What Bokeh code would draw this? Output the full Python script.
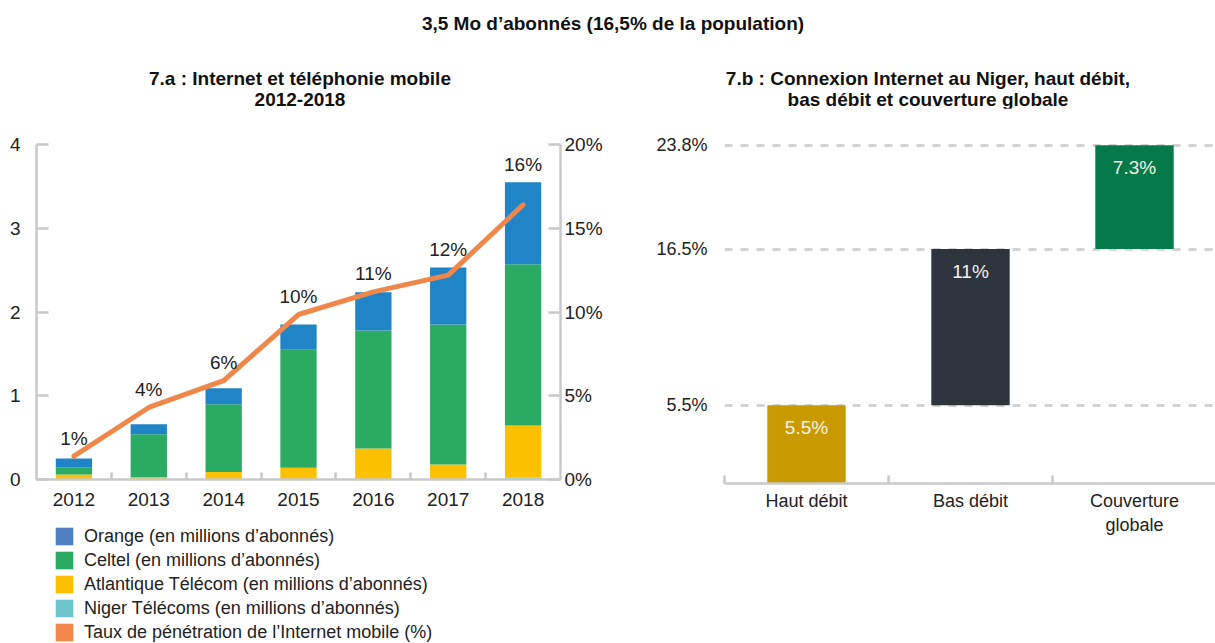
import numpy as np
from bokeh.plotting import figure
from bokeh.models import (Range1d, LinearAxis, FixedTicker, ColumnDataSource,
                          Legend, LegendItem, Div)
from bokeh.layouts import column, row
from bokeh.embed import file_html
from bokeh.resources import INLINE
from bokeh.core.properties import value

FONT = "Liberation Sans"

# ---------------- data ----------------
years = ["2012", "2013", "2014", "2015", "2016", "2017", "2018"]
niger_telecoms = [0.0, 0.0, 0.0, 0.0, 0.0, 0.0, 0.02]
atlantique = [0.06, 0.03, 0.09, 0.14, 0.37, 0.18, 0.625]
celtel = [0.085, 0.51, 0.81, 1.41, 1.41, 1.67, 1.925]
orange = [0.105, 0.12, 0.19, 0.30, 0.455, 0.68, 0.98]
penetration = [1.4, 4.3, 5.9, 9.85, 11.2, 12.2, 16.4]
pen_labels = ["1%", "4%", "6%", "10%", "11%", "12%", "16%"]
left_ticks = [0, 1, 2, 3, 4]
right_ticks = [0, 5, 10, 15, 20]
right_tick_labels = ["0%", "5%", "10%", "15%", "20%"]

series_names = ["Orange (en millions d’abonnés)", "Celtel (en millions d’abonnés)",
                "Atlantique Télécom (en millions d’abonnés)", "Niger Télécoms (en millions d’abonnés)",
                "Taux de pénétration de l’Internet mobile (%)"]

modes = ["Haut débit", "Bas débit", "Couverture\nglobale"]
mode_values = [5.5, 11.0, 7.3]
mode_labels = ["5.5%", "11%", "7.3%"]
mode_ticks = [5.5, 16.5, 23.8]
mode_tick_labels = ["5.5%", "16.5%", "23.8%"]

# colours
C_ORANGE_BAR = "#1F85C7"
C_CELTEL = "#2BAA64"
C_ATL = "#FBC000"
C_NIGER = "#6DC6CC"
C_LINE = "#F0874A"
C_ORANGE_LEG = "#4F7FC2"
MODE_COLORS = ["#C99A00", "#2E343D", "#06794A"]
AXIS_C = "#C8C8C8"
TXT = "#222222"

# ---------------- titles ----------------
TSTYLE = f"font-family:'{FONT}',sans-serif;font-weight:bold;font-size:19px;color:#111;text-align:center"
title_div = Div(text=f"<div style=\"{TSTYLE};width:1204px;margin-left:11px;padding-top:14px;line-height:20px\">3,5 Mo d’abonnés (16,5% de la population)</div>",
                width=1215, height=48, margin=0)
sub_a = Div(text=f"<div style=\"{TSTYLE};width:600px;padding-top:20px;line-height:21px\">7.a : Internet et téléphonie mobile<br>2012-2018</div>",
            width=628, height=60, margin=0)
sub_b = Div(text=f"<div style=\"{TSTYLE};width:574px;margin-left:13px;padding-top:20px;line-height:21px\">7.b : Connexion Internet au Niger, haut débit,<br>bas débit et couverture globale</div>",
            width=587, height=60, margin=0)

# ---------------- left chart ----------------
xs = list(range(len(years)))
b0 = np.zeros(len(years))
n_top = b0 + np.array(niger_telecoms)
a_top = n_top + np.array(atlantique)
c_top = a_top + np.array(celtel)
o_top = c_top + np.array(orange)

p1 = figure(width=628, height=407, x_range=Range1d(-0.5, 6.5), y_range=Range1d(0, 4),
            output_backend="svg", toolbar_location=None,
            min_border_left=36, min_border_right=68, min_border_top=36, min_border_bottom=36)
p1.outline_line_color = None
p1.grid.visible = False
p1.extra_y_ranges = {"pct": Range1d(0, 20)}

src = ColumnDataSource(dict(x=xs, b0=b0, n=n_top, a=a_top, c=c_top, o=o_top))
W = 0.485
p1.vbar(x="x", bottom="b0", top="n", width=W, source=src, fill_color=C_NIGER, line_color=None)
p1.vbar(x="x", bottom="n", top="a", width=W, source=src, fill_color=C_ATL, line_color=None)
p1.vbar(x="x", bottom="a", top="c", width=W, source=src, fill_color=C_CELTEL, line_color=None)
p1.vbar(x="x", bottom="c", top="o", width=W, source=src, fill_color=C_ORANGE_BAR, line_color=None)

p1.line(xs, penetration, y_range_name="pct", line_color=C_LINE, line_width=5,
        line_cap="round", line_join="round")

label_y = np.maximum(o_top, np.array(penetration) * 4 / 20)
p1.text(x=xs, y=label_y, text=pen_labels, y_offset=-18, text_align="center",
        text_baseline="middle", text_font=value(FONT), text_font_size="19px", text_color=TXT)

xaxis = p1.xaxis[0]
xaxis.ticker = FixedTicker(ticks=xs, minor_ticks=[i + 0.5 for i in xs[:-1]])
xaxis.major_label_overrides = {i: y for i, y in zip(xs, years)}
xaxis.major_tick_in = 0
xaxis.major_tick_out = 0
xaxis.minor_tick_in = 7
xaxis.minor_tick_out = 0
xaxis.minor_tick_line_color = AXIS_C
xaxis.minor_tick_line_width = 2.5
xaxis.axis_line_color = AXIS_C
xaxis.axis_line_width = 2.5
xaxis.major_label_standoff = 13

yaxis = p1.yaxis[0]
yaxis.ticker = FixedTicker(ticks=left_ticks)
yaxis.major_tick_in = 12
yaxis.major_tick_out = 0
yaxis.major_tick_line_color = AXIS_C
yaxis.major_tick_line_width = 2.5
yaxis.axis_line_color = AXIS_C
yaxis.axis_line_width = 2.5
yaxis.major_label_standoff = 16

raxis = LinearAxis(y_range_name="pct", ticker=FixedTicker(ticks=right_ticks),
                   major_label_overrides={t: l for t, l in zip(right_ticks, right_tick_labels)})
raxis.major_tick_in = 12
raxis.major_tick_out = 0
raxis.major_tick_line_color = AXIS_C
raxis.major_tick_line_width = 2.5
raxis.axis_line_color = AXIS_C
raxis.axis_line_width = 2.5
raxis.major_label_standoff = 4
p1.add_layout(raxis, "right")

for ax in (xaxis, yaxis, raxis):
    ax.major_label_text_font = FONT
    ax.major_label_text_font_size = "19px"
    ax.major_label_text_color = TXT

# ---------------- legend (own panel below the left chart) ----------------
p3 = figure(width=628, height=128, x_range=Range1d(0, 1), y_range=Range1d(0, 1),
            output_backend="svg", toolbar_location=None,
            x_axis_location=None, y_axis_location=None,
            min_border_left=0, min_border_right=0, min_border_top=0, min_border_bottom=0)
p3.outline_line_color = None
p3.grid.visible = False
leg_colors = [C_ORANGE_LEG, C_CELTEL, C_ATL, C_NIGER, C_LINE]
items = []
for name, col in zip(series_names, leg_colors):
    # zero-height proxy bar: invisible in the plot, gives the legend its swatch colour
    r = p3.vbar(x=[0.5], bottom=[0], top=[0], width=0.001, fill_color=col, line_color=None)
    items.append(LegendItem(label=name, renderers=[r]))
legend = Legend(items=items, location=(17, 0), orientation="vertical",
                glyph_width=22, glyph_height=22, label_height=18, spacing=2,
                padding=0, margin=0, border_line_color=None, background_fill_alpha=0,
                label_text_font=FONT, label_text_font_size="18px", label_text_color=TXT,
                label_standoff=9)
p3.add_layout(legend)

# ---------------- right chart ----------------
mx = [i + 0.5 for i in range(len(modes))]
tops = np.cumsum(mode_values)
bottoms = tops - np.array(mode_values)

p2 = figure(width=587, height=535, x_range=Range1d(0, 2.994), y_range=Range1d(0, 24.0),
            output_backend="svg", toolbar_location=None,
            min_border_left=96, min_border_right=0, min_border_top=34, min_border_bottom=160)
p2.outline_line_color = None
p2.xgrid.visible = False
p2.ygrid.ticker = FixedTicker(ticks=mode_ticks)
p2.ygrid.grid_line_color = "#D2D2D2"
p2.ygrid.grid_line_width = 3
p2.ygrid.grid_line_dash = "8 8"

src2 = ColumnDataSource(dict(x=mx, bottom=bottoms, top=tops, color=MODE_COLORS, lab=mode_labels))
p2.vbar(x="x", bottom="bottom", top="top", width=0.478, fill_color="color", line_color=None, source=src2)
p2.text(x="x", y="top", text="lab", y_offset=22, text_align="center", text_baseline="middle",
        text_font=value(FONT), text_font_size="19px", text_color="#F5F1E4", source=src2)

ax2 = p2.xaxis[0]
ax2.ticker = FixedTicker(ticks=mx, minor_ticks=list(range(len(modes))))
ax2.major_label_overrides = {x: m for x, m in zip(mx, modes)}
ax2.major_tick_in = 0
ax2.major_tick_out = 0
ax2.minor_tick_in = 8
ax2.minor_tick_out = 0
ax2.minor_tick_line_color = AXIS_C
ax2.minor_tick_line_width = 2.5
ax2.axis_line_color = AXIS_C
ax2.axis_line_width = 2.5
ax2.major_label_standoff = 7

ay2 = p2.yaxis[0]
ay2.ticker = FixedTicker(ticks=mode_ticks)
ay2.major_label_overrides = {t: l for t, l in zip(mode_ticks, mode_tick_labels)}
ay2.axis_line_color = None
ay2.major_tick_line_color = None
ay2.minor_tick_line_color = None
ay2.major_label_standoff = 11

for ax in (ax2, ay2):
    ax.major_label_text_font = FONT
    ax.major_label_text_font_size = "18px"
    ax.major_label_text_color = TXT

layout = column(title_div, row(column(sub_a, p1, p3), column(sub_b, p2)))

open("out.html", "w").write(file_html(layout, INLINE))
